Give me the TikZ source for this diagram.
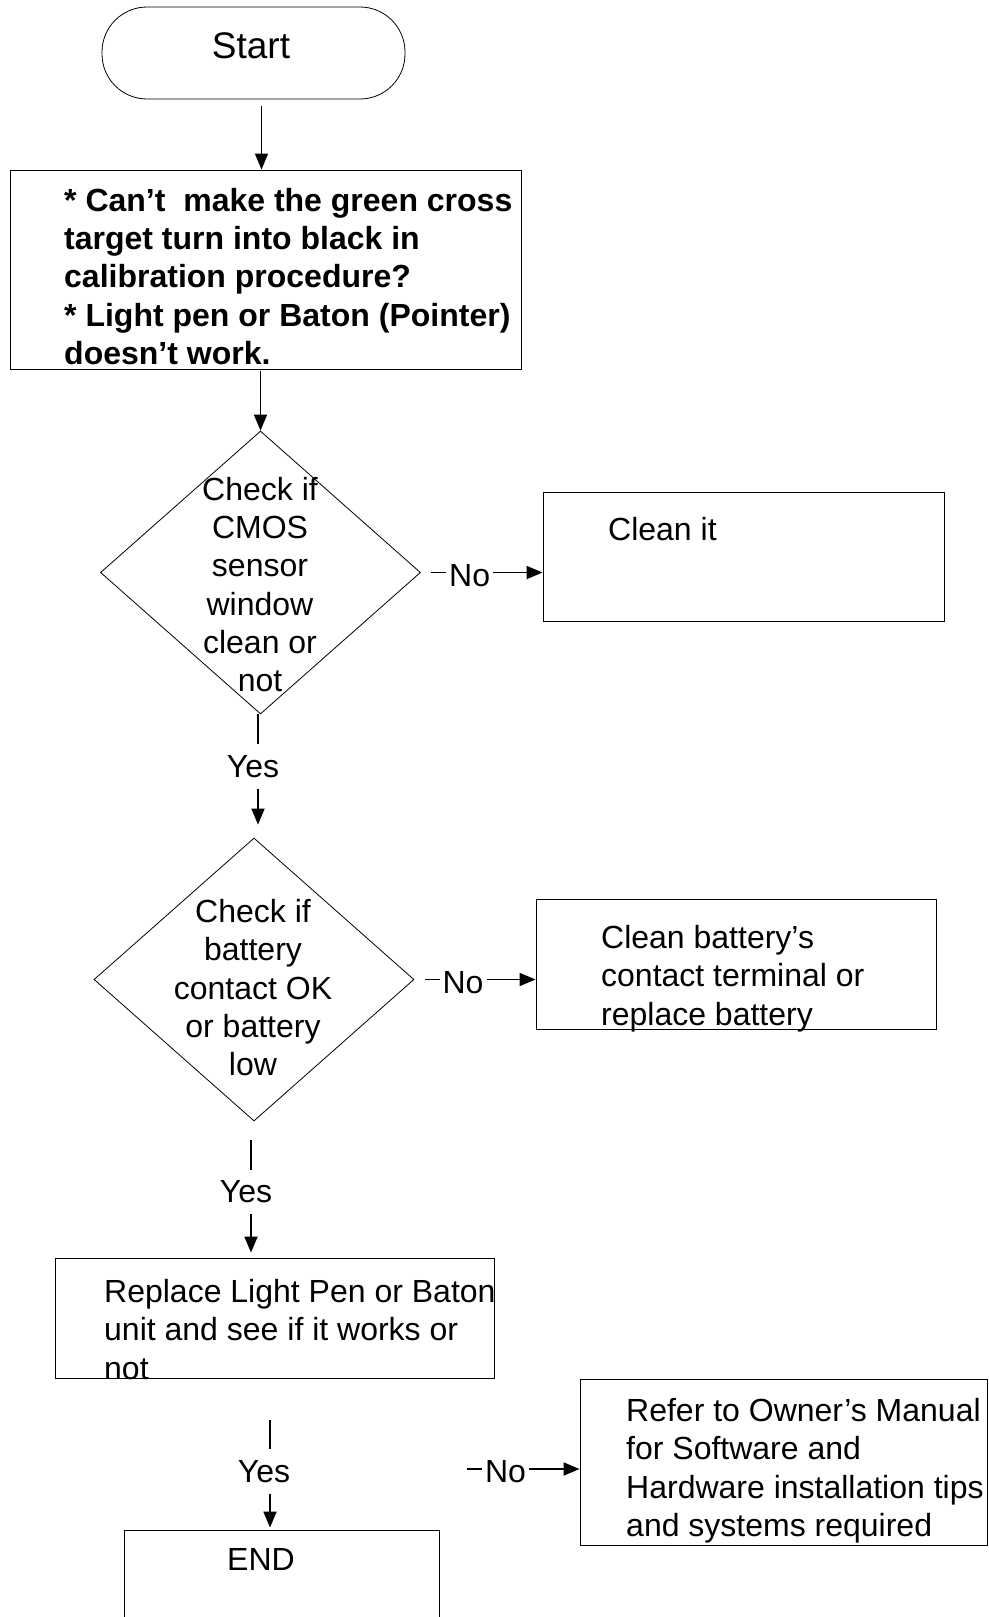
\documentclass[tikz,border=0pt]{standalone}
\usepackage{fontspec}
\setmainfont{Liberation Sans}
\usetikzlibrary{shapes.geometric,arrows.meta}
\newcommand{\flowfont}{\fontsize{32}{38.3}\selectfont}

\begin{document}
\begin{tikzpicture}[x=1pt, y=-1pt,
    box/.style={draw, line width=0.9pt, inner sep=0pt},
    dia/.style={draw, diamond, line width=0.8pt, inner sep=0pt, minimum width=320pt, minimum height=283pt},
    txt/.style={inner sep=0pt, align=left, anchor=north west, font=\flowfont},
    ctxt/.style={inner sep=0pt, align=center, anchor=north, font=\flowfont},
    lbl/.style={fill=white, inner xsep=6pt, inner ysep=11.3pt, font=\flowfont},
    nolbl/.style={fill=white, inner xsep=3pt, inner ysep=11.3pt, font=\flowfont, yshift=-3pt},
    arr/.style={line width=1.8pt, -{Triangle[length=16pt,width=13pt]}}]
  \useasboundingbox (0,0) rectangle (988,1617);
  % node
  \node[draw, line width=0.8pt, rounded corners=45pt, minimum width=303pt, minimum height=92pt] (start) at (253.5,53) {};
  \node[box, minimum width=511pt, minimum height=199pt] (prob) at (265.5,269.5) {};
  \node[dia] (d1) at (260.5,572.5) {};
  \node[box, minimum width=401pt, minimum height=129pt] (clean) at (743.5,556.5) {};
  \node[dia] (d2) at (254,979.5) {};
  \node[box, minimum width=400pt, minimum height=130pt] (batt) at (736,964) {};
  \node[box, minimum width=439pt, minimum height=120pt] (repl) at (274.5,1318) {};
  \node[box, minimum width=407pt, minimum height=166pt] (manual) at (783.5,1462) {};
  \node[box, minimum width=315pt, minimum height=130pt] (stop) at (281.5,1595) {};
  \coordinate (nofree) at (467,1469);
  % texts
  \node[ctxt, anchor=center, font=\fontsize{37}{44}\selectfont] (starttxt) at (251,46) {Start};
  \node[txt, font=\flowfont\bfseries] (probtxt) at (64,188) {* Can’t\ \ make the green cross\\target turn into black in\\calibration procedure?\\* Light pen or Baton (Pointer)\\doesn’t work.};
  \node[ctxt] (d1txt) at (260,477) {Check if\\CMOS\\sensor\\window\\clean or\\not};
  \node[txt] (cleantxt) at (608,517) {Clean it};
  \node[ctxt] (d2txt) at (253,899) {Check if\\battery\\contact OK\\or battery\\low};
  \node[txt] (batttxt) at (601,925) {Clean battery’s\\contact terminal or\\replace battery};
  \node[txt] (repltxt) at (104,1279) {Replace Light Pen or Baton\\unit and see if it works or\\not};
  \node[txt] (manualtxt) at (626,1398) {Refer to Owner’s Manual\\for Software and\\Hardware installation tips\\and systems required};
  \node[ctxt] (stoptxt) at (261,1548.5) {END};
  % lines
  \draw[arr] ([xshift=8pt,yshift=-7pt]start.south) -- ([xshift=8pt]start.south |- prob.north);
  \draw[arr] ([yshift=-2pt]prob.south -| d1.north) -- (d1.north);
  \draw[arr] ([xshift=10pt]d1.east) -- (d1.east -| clean.west) node[nolbl, pos=0.347] (no1) {No\hspace{4pt}};
  \draw[arr] ([xshift=-2.5pt]d1.south) -- ([shift={(-2.5pt,13pt)}]d1.south |- d2.north) node[lbl, pos=0.47, xshift=-5pt] (yes1) {Yes};
  \draw[arr] ([xshift=11pt]d2.east) -- (d2.east -| batt.west) node[nolbl, pos=0.342] (no2) {No\hspace{4pt}};
  \draw[arr] ([shift={(-3pt,-19pt)}]d2.south) -- ([shift={(-3pt,5pt)}]d2.south |- repl.north) node[lbl, pos=0.46, xshift=-5pt] (yes2) {Yes};
  \draw[arr] ([shift={(-4.5pt,-42pt)}]repl.south) -- ([shift={(-4.5pt,2pt)}]repl.south |- stop.north) node[lbl, pos=0.48, xshift=-6pt] (yes3) {Yes};
  \draw[arr] (nofree) -- (nofree -| manual.west) node[nolbl, pos=0.342] (no3) {No\hspace{4pt}};
\end{tikzpicture}
\end{document}
